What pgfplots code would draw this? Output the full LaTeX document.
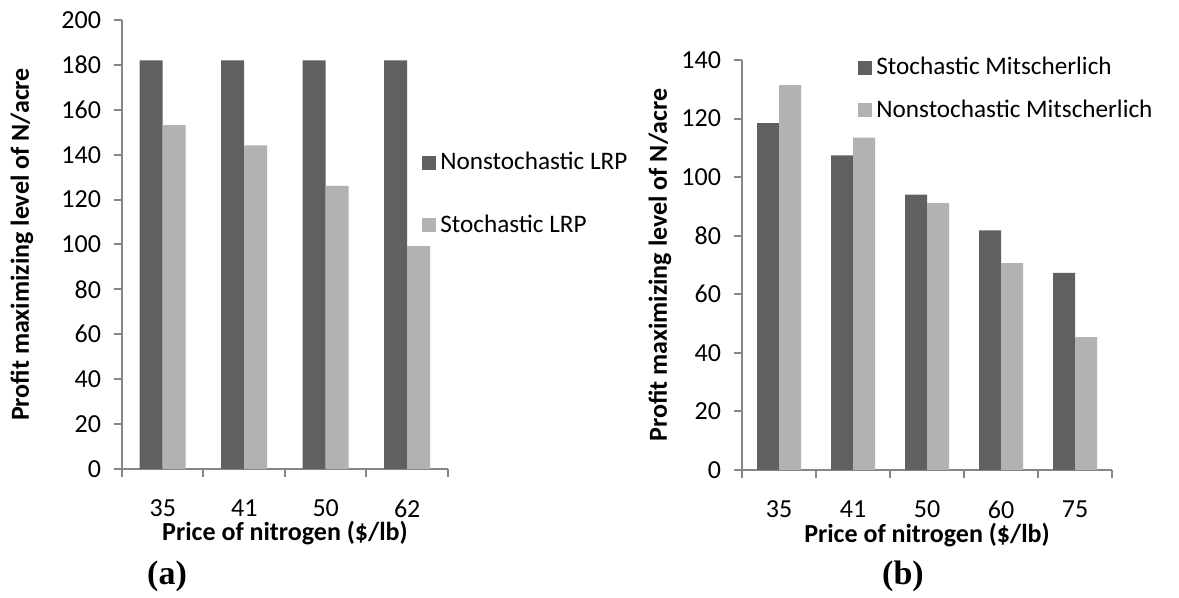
\documentclass[border=0pt]{standalone}
\usepackage{fontspec}
\setmainfont{Carlito}
\newfontfamily\timesb{Liberation Serif}
\usepackage{pgfplots}
\pgfplotsset{compat=1.18}
\definecolor{darkbar}{RGB}{96,96,96}
\definecolor{lightbar}{RGB}{178,178,178}
\definecolor{axgray}{RGB}{134,134,134}
\pgfplotsset{
  mystyle/.style={
    scale only axis,
    ybar=0pt,
    axis x line*=bottom, axis y line*=left,
    axis line style={draw=axgray, line width=1pt, -},
    tick style={draw=axgray, line width=1pt},
    tick align=outside,
    major tick length=4pt,
    ymin=0,
    enlarge y limits=false,
    x tick label as interval,
    tick label style={font=\fontsize{13}{15}\selectfont, text=black},
    yticklabel style={xshift=-3pt},
    xticklabel style={yshift=-8pt},
    /pgf/number format/assume math mode=true,
    label style={font=\bfseries\fontsize{13}{15}\selectfont},
    legend style={draw=none, fill=none, font=\fontsize{12.6}{14}\selectfont, inner sep=0pt, legend cell align=left},
  },
  darksq/.style={fill=darkbar, draw=none, legend image code/.code={\fill[darkbar] (0pt,-3.5pt) rectangle (7pt,3.5pt);}},
  lightsq/.style={fill=lightbar, draw=none, legend image code/.code={\fill[lightbar] (0pt,-3.5pt) rectangle (7pt,3.5pt);}},
}
\begin{document}
\begin{tikzpicture}
\path[use as bounding box] (0,0) rectangle (589.5pt,299pt);
% ---------- (a) ----------
\begin{axis}[mystyle,
  at={(61pt,64.5pt)}, anchor=south west,
  width=163pt, height=224.5pt,
  xmin=-0.5, xmax=3.5,
  xtick={-0.5,0.5,1.5,2.5,3.5},
  xticklabels={35,41,50,62},
  ymax=200, ytick={0,20,...,200},
  bar width=11.5pt,
  xlabel={Price of nitrogen (\$/lb)},
  ylabel={Profit maximizing level of N/acre},
  xlabel style={at={(axis description cs:0.5,-0.1425)}, anchor=center},
  ylabel style={at={(axis description cs:-0.307,0.5)}, anchor=center},
  legend style={at={(rel axis cs:0.92,0.715)}, anchor=north west, row sep=17pt},
]
\addplot[darksq] coordinates {(0,182) (1,182) (2,182) (3,182)};
\addplot[lightsq] coordinates {(0,153.2) (1,144.1) (2,126.1) (3,99.3)};
\legend{Nonstochastic LRP, Stochastic LRP}
\end{axis}
% ---------- (b) ----------
\begin{axis}[mystyle,
  at={(371pt,64pt)}, anchor=south west,
  width=185pt, height=205pt,
  xmin=-0.5, xmax=4.5,
  xtick={-0.5,0.5,1.5,2.5,3.5,4.5},
  xticklabels={35,41,50,60,75},
  ymax=140, ytick={0,20,...,140},
  bar width=11pt,
  xlabel={Price of nitrogen (\$/lb)},
  ylabel={Profit maximizing level of N/acre},
  xlabel style={at={(axis description cs:0.5,-0.159)}, anchor=center},
  ylabel style={at={(axis description cs:-0.222,0.5)}, anchor=center},
  legend style={at={(rel axis cs:0.3135,1.017)}, anchor=north west, row sep=7pt},
]
\addplot[darksq] coordinates {(0,118.4) (1,107.4) (2,94.0) (3,81.8) (4,67.3)};
\addplot[lightsq] coordinates {(0,131.4) (1,113.5) (2,91.1) (3,70.6) (4,45.4)};
\legend{Stochastic Mitscherlich, Nonstochastic Mitscherlich}
\end{axis}
\node[font=\timesb\bfseries\fontsize{17}{19}\selectfont] at (83.5pt,11pt) {(a)};
\node[font=\timesb\bfseries\fontsize{17}{19}\selectfont] at (451.5pt,11pt) {(b)};
\end{tikzpicture}
\end{document}
